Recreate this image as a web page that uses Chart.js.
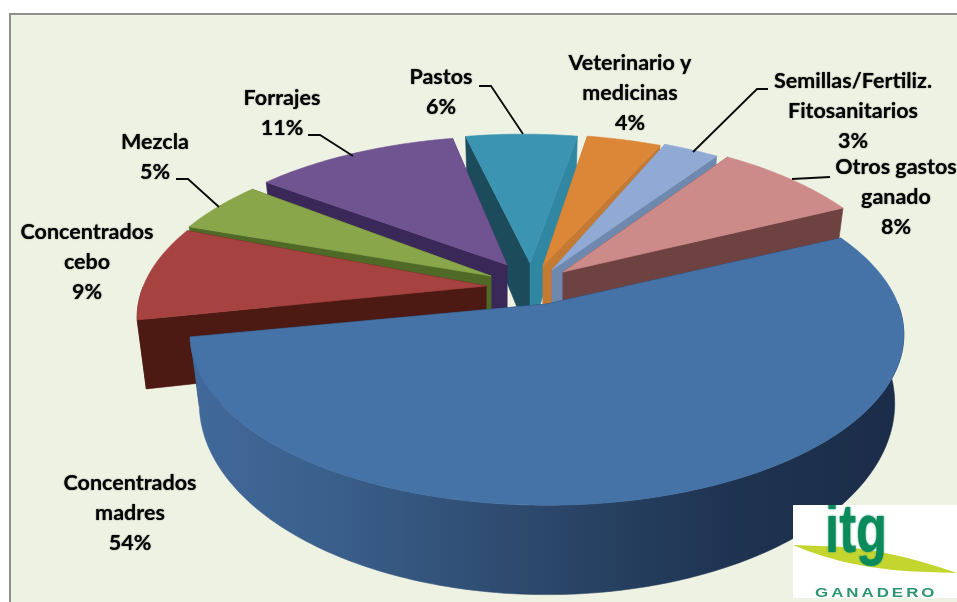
<!DOCTYPE html>
<html>
<head>
<meta charset="utf-8">
<title>Costes</title>
<script src="https://cdn.jsdelivr.net/npm/chart.js@4/dist/chart.umd.min.js"></script>
<style>
    html, body { margin: 0; padding: 0; background: #fff; overflow: hidden; }
    #panel {
        position: absolute; left: 9px; top: 13px; width: 948px; height: 589px;
        background: #eef2e3; border-top: 2px solid #8f8f8f; border-left: 2px solid #8f8f8f;
        box-sizing: border-box;
    }
    #costChart { position: absolute; left: 0; top: 0; }
</style>
</head>
<body>
<div id="panel"></div>
<canvas id="costChart" width="957" height="602"></canvas>
<script>
// Data
const categories = [
    ['Concentrados', 'madres'],
    ['Concentrados', 'cebo'],
    ['Mezcla'],
    ['Forrajes'],
    ['Pastos'],
    ['Veterinario y', 'medicinas'],
    ['Semillas/Fertiliz.', 'Fitosanitarios'],
    ['Otros gastos', 'ganado']
];
const values = [54, 9, 5, 11, 6, 4, 3, 8];

// Slice colours
const topColors = ['#4572a7', '#a64341', '#8aa64b', '#705391', '#3b94b1', '#dc8638', '#90a9d5', '#cc8a88'];
const startWallColors = ['#1b2d47', '#4d1913', '#4f6a26', '#3a2858', '#1c4c5c', '#b9712e', '#6f88ad', '#6f4242'];
const endWallColors = ['#1b2d47', '#4d1913', '#4f6a26', '#3a2858', '#2f87a2', '#c47a33', '#6f88ad', '#6f4242'];

// Look of the pie: how far each slice is pulled out, in px from the centre
const explode = [[17, 14], [-36, -3], [-34, -7], [-20, -14], [-7, -16], [3, -16], [8, -17], [19, -16]];
// the tips sit a little off the projected centre because of the camera
const tipNudge = [[0, 0], [-8, -1], [-5, -7], [-3, -11], [7, -11], [10, -8], [14, -3], [14, -2]];
const pieCentre = [530, 290];
const paintOrder = [4, 3, 5, 2, 6, 1, 7, 0];
const topPlane = { a: 351, b: 165, k: 0.18, dy: 0 };
const bottomPlane = { a: 342, b: 185, k: 0.18, dy: 65 };

// Label centres and leader lines
const labelPos = [[130, 483], [87, 232], [155, 142], [282, 98], [441, 77], [630, 63], [853, 81], [896, 167]];
const leaders = [
    null,
    null,
    [[176, 179], [188, 179], [219, 207]],
    [[308, 135], [320, 135], [353, 156]],
    [[479, 86], [491, 86], [523, 134]],
    null,
    [[768, 89], [757, 89], [693, 152]],
    [[830, 177], [792, 179]]
];

function project(plane, x, y, shift) {
    const w = 1 - plane.k * y;
    return [
        pieCentre[0] + shift[0] + plane.a * x / w,
        pieCentre[1] + shift[1] + plane.dy + plane.b * y / w
    ];
}

function rimPoints(plane, start, end, shift) {
    const pts = [];
    const steps = Math.ceil((end - start) / (Math.PI / 180));
    for (let i = 0; i <= steps; i++) {
        const a = start + (end - start) * i / steps;
        pts.push(project(plane, Math.cos(a), Math.sin(a), shift));
    }
    return pts;
}

function fillPoly(ctx, pts, color) {
    ctx.beginPath();
    pts.forEach((p, i) => i ? ctx.lineTo(p[0], p[1]) : ctx.moveTo(p[0], p[1]));
    ctx.closePath();
    ctx.fillStyle = color;
    ctx.fill();
    ctx.strokeStyle = color;
    ctx.lineWidth = 0.6;
    ctx.stroke();
}

function drawOuterWall(ctx, arc, i, shift) {
    // only the part of the rim that faces the viewer
    const from = Math.max(arc.startAngle, 0);
    const to = Math.min(arc.endAngle, Math.PI);
    const from2 = from > to ? arc.startAngle : from;
    if (from2 >= to) return;
    let wall = startWallColors[i];
    if (i === 0) {
        wall = ctx.createLinearGradient(190, 0, 903, 0);
        wall.addColorStop(0, '#41699a');
        wall.addColorStop(0.2, '#3a5f8b');
        wall.addColorStop(0.5, '#2b4769');
        wall.addColorStop(0.75, '#1f3452');
        wall.addColorStop(1, '#1a2c47');
    }
    const top = rimPoints(topPlane, from2, to, shift);
    const low = rimPoints(bottomPlane, from2, to, shift);
    fillPoly(ctx, top.concat(low.reverse()), wall);
}

function drawSlice(ctx, arc, i) {
    const shift = explode[i];
    const nudge = tipNudge[i];
    const topRim = rimPoints(topPlane, arc.startAngle, arc.endAngle, shift);
    const lowRim = rimPoints(bottomPlane, arc.startAngle, arc.endAngle, shift);
    const topApex = project(topPlane, 0, 0, [shift[0] + nudge[0], shift[1] + nudge[1]]);
    const lowApex = project(bottomPlane, 0, 0, [shift[0] + nudge[0], shift[1]]);

    // the two cut faces
    fillPoly(ctx, [topApex, topRim[0], lowRim[0], lowApex], startWallColors[i]);
    fillPoly(ctx, [topApex, topRim[topRim.length - 1], lowRim[lowRim.length - 1], lowApex], endWallColors[i]);

    drawOuterWall(ctx, arc, i, shift);

    // top face
    fillPoly(ctx, [topApex].concat(topRim), topColors[i]);
}

function drawLabels(ctx) {
    ctx.save();
    ctx.textAlign = 'center';
    ctx.textBaseline = 'middle';
    ctx.font = 'bold 21.5px Lato';
    ctx.fillStyle = '#050505';
    ctx.shadowColor = 'rgba(0,0,0,0.75)';
    ctx.shadowBlur = 1.2;
    categories.forEach((lines, i) => {
        lines.concat(values[i] + '%').forEach((txt, n) => {
            ctx.fillText(txt, labelPos[i][0], labelPos[i][1] + n * 30);
        });
    });
    ctx.restore();
    ctx.strokeStyle = '#0a0a0a';
    ctx.lineWidth = 1.8;
    leaders.forEach(line => {
        if (!line) return;
        ctx.beginPath();
        line.forEach((p, n) => n ? ctx.lineTo(p[0], p[1]) : ctx.moveTo(p[0], p[1]));
        ctx.stroke();
    });
}

function drawLogo(ctx) {
    ctx.fillStyle = '#fff';
    ctx.fillRect(793, 505, 164, 93);
    // swoosh
    ctx.beginPath();
    ctx.moveTo(793, 545);
    ctx.lineTo(820, 546);
    ctx.quadraticCurveTo(880, 546, 957, 573);
    ctx.lineTo(927, 572);
    ctx.quadraticCurveTo(850, 570, 793, 545);
    ctx.fillStyle = '#c5d530';
    ctx.fill();
    // letters, squeezed and stretched to the logo's proportions
    ctx.save();
    ctx.beginPath();
    ctx.rect(793, 505, 164, 93);
    ctx.clip();
    ctx.textAlign = 'left';
    ctx.textBaseline = 'alphabetic';
    ctx.fillStyle = '#0b8a5c';
    ctx.shadowColor = '#0b8a5c';
    ctx.shadowBlur = 2;
    ctx.translate(825, 552);
    ctx.scale(0.82, 1.1);
    ctx.font = 'bold 62px "Liberation Sans"';
    ctx.fillText('itg', 0, 0);
    ctx.restore();
    ctx.save();
    ctx.textAlign = 'left';
    ctx.textBaseline = 'alphabetic';
    ctx.fillStyle = '#2f9672';
    ctx.translate(815, 597);
    ctx.scale(1.25, 1);
    ctx.font = 'bold 13.5px "Liberation Sans"';
    ctx.letterSpacing = '2.4px';
    ctx.fillText('GANADERO', 0, 0);
    ctx.restore();
}

// Chart.js works out the slice angles, this plugin draws them in perspective
const perspectivePie = {
    id: 'perspectivePie',
    beforeDatasetsDraw(chart) {
        const ctx = chart.ctx;
        const arcs = chart.getDatasetMeta(0).data;
        ctx.save();
        paintOrder.forEach(i => drawSlice(ctx, arcs[i], i));
        drawLabels(ctx);
        drawLogo(ctx);
        ctx.restore();
        return false;
    }
};

new Chart(document.getElementById('costChart'), {
    type: 'pie',
    data: {
        labels: categories.map(c => c.join(' ')),
        datasets: [{ data: values, backgroundColor: topColors, borderWidth: 0 }]
    },
    options: {
        responsive: false,
        animation: false,
        rotation: 64.5,
        plugins: { legend: { display: false }, tooltip: { enabled: false } }
    },
    plugins: [perspectivePie]
});
</script>
</body>
</html>
